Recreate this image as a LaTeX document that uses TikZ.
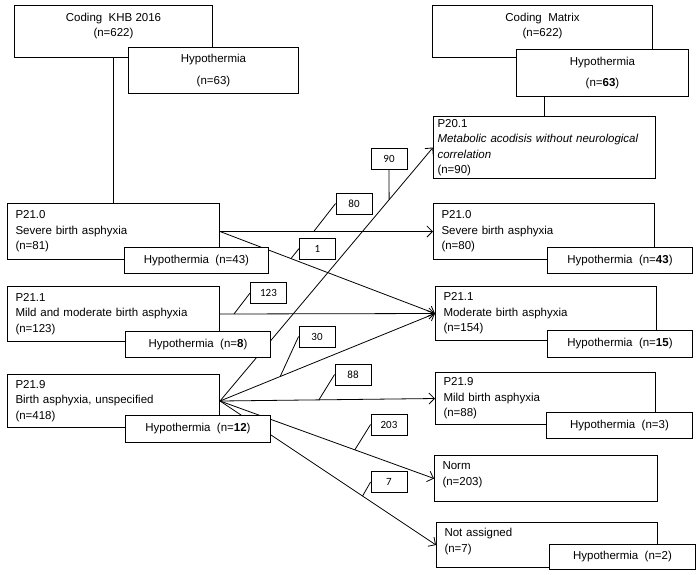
\documentclass[tikz,border=0pt]{standalone}
\usepackage{fontspec}
\setmainfont{Liberation Sans}
\newfontfamily\numfont{Carlito}
\usetikzlibrary{arrows.meta}

\begin{document}
\begin{tikzpicture}[x=1pt,y=-1pt,
	font=\fontsize{11.5}{15.5}\selectfont,
	box/.style={draw, line width=1pt, fill=white, anchor=north west, align=left, inner xsep=8pt, inner ysep=0pt},
	hypo/.style={box, align=center, inner xsep=0pt},
	count/.style={draw, line width=0.9pt, fill=white, minimum width=36pt, minimum height=21pt, inner sep=0pt, font=\numfont\fontsize{11}{13}\selectfont},
	flow/.style={line width=0.8pt, -{Straight Barb[length=5.5pt,width=11pt]}},
	lead/.style={line width=0.8pt}]
	\useasboundingbox (0,0) rectangle (700,574);

	% KHB 2016 side
	\node[hypo, minimum width=198pt, minimum height=52pt] (khb) at (14,5) {Coding\ \ KHB 2016\\(n=622)\\[-2pt]\mbox{}};
	\node[box, text width=196pt, minimum height=56pt] (l210) at (7,203) {P21.0\\Severe birth asphyxia\\(n=81)};
	\node[box, text width=196pt, minimum height=55pt] (l211) at (7,286) {P21.1\\Mild and moderate birth asphyxia\\(n=123)};
	\node[box, text width=196pt, minimum height=53pt] (l219) at (7,374) {P21.9\\Birth asphyxia, unspecified\\(n=418)};

	% Coding matrix side
	\node[hypo, minimum width=220pt, minimum height=52pt] (mat) at (432,5) {Coding\ \ Matrix\\(n=622)\\[-2pt]\mbox{}};
	\node[box, inner xsep=4pt, text width=214pt, minimum height=62pt] (r201) at (433,116) {P20.1\\\textit{Metabolic acodisis without neurological}\\\textit{correlation}\\(n=90)};
	\node[box, text width=205pt, minimum height=56pt] (r210) at (433,203) {P21.0\\Severe birth asphyxia\\(n=80)};
	\node[box, text width=205pt, minimum height=54pt] (r211) at (435,286) {P21.1\\Moderate birth asphyxia\\(n=154)};
	\node[box, text width=204pt, minimum height=52pt] (r219) at (435,372) {P21.9\\Mild birth asphyxia\\(n=88)};
	\node[box, text width=207pt, minimum height=46pt] (rnorm) at (434,455) {Norm\\(n=203)\\[-6pt]\mbox{}};
	\node[box, text width=205pt, minimum height=45pt] (rnone) at (436,522) {Not assigned\\(n=7)\\[-6pt]\mbox{}};

	% flows
	\draw[lead] (khb) -- (l210);
	\draw[flow] (l210.east) -- coordinate[pos=.44] (c80) (r210.west);
	\draw[flow] (l210.east) -- coordinate[pos=.33] (c1) (r211.west);
	\draw[flow] (l211.east) -- coordinate[pos=.065] (c123) (r211.west);
	\draw[flow] (l219.east) -- coordinate[pos=.794] (c90) (r201.west);
	\draw[flow] (l219.east) -- coordinate[pos=.28] (c30) (r211.west);
	\draw[flow] (l219.east) -- coordinate[pos=.46] (c88) (r219.west);
	\draw[flow] (l219.east) -- coordinate[pos=.63] (c203) (rnorm.west);
	\draw[flow] (l219.east) -- coordinate[pos=.66] (c7) (rnone.west);

	% Hypothermia
	\node[hypo, minimum width=170pt, minimum height=46pt] (hkhb) at (128,47) {Hypothermia\\[6pt](n=63)};
	\node[hypo, minimum width=144pt, minimum height=26pt] (hl210) at (124,247) {Hypothermia\ \ (n=43)};
	\node[hypo, minimum width=145pt, minimum height=26pt] (hl211) at (125,331) {Hypothermia\ \ (n=\textbf{8})};
	\node[hypo, minimum width=145pt, minimum height=27pt] (hl219) at (125,415) {Hypothermia\ \ (n=\textbf{12})};
	\node[hypo, minimum width=172pt, minimum height=47pt] (hmat) at (516,49) {Hypothermia\\[6pt](n=\textbf{63})};
	\node[hypo, minimum width=145pt, minimum height=26pt] (hr210) at (547,247) {Hypothermia\ \ (n=\textbf{43})};
	\node[hypo, minimum width=145pt, minimum height=27pt] (hr211) at (547,330) {Hypothermia\ \ (n=\textbf{15})};
	\node[hypo, minimum width=146pt, minimum height=26pt] (hr219) at (546,412) {Hypothermia\ \ (n=3)};
	\node[hypo, minimum width=146pt, minimum height=25pt] (hrnone) at (549,544) {Hypothermia\ \ (n=2)};
	\draw[lead] (r201.north) -- (r201.north |- hmat.south);

	% counts
	\node[count] (n90) at (389,158.5) {90};
	\node[count] (n80) at (354,203.5) {80};
	\node[count] (n1) at (317.5,248.5) {1};
	\node[count] (n123) at (268.5,293) {123};
	\node[count] (n30) at (317,336.5) {30};
	\node[count] (n88) at (353,374.5) {88};
	\node[count] (n203) at (389,424.5) {203};
	\node[count] (n7) at (389,482) {7};
	\draw[lead] (n90.south) -- (c90);
	\draw[lead] (n80.west) -- (c80);
	\draw[lead] (n1.west) -- (c1);
	\draw[lead] (n123.west) -- (c123);
	\draw[lead] (n30.west) -- (c30);
	\draw[lead] (n88.west) -- (c88);
	\draw[lead] (n203.west) -- (c203);
	\draw[lead] (n7.west) -- (c7);
\end{tikzpicture}
\end{document}
